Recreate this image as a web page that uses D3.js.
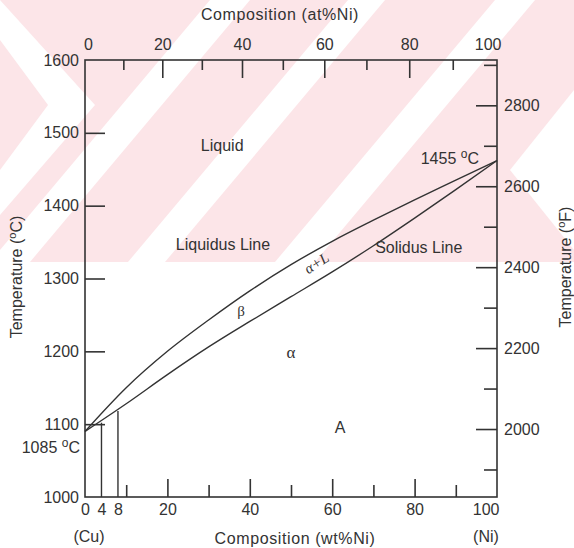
<!DOCTYPE html>
<html lang="en">
<head>
<meta charset="UTF-8">
<title>Cu-Ni phase diagram</title>
<script src="https://cdn.jsdelivr.net/npm/d3@7"></script>
<style>
  body { margin: 0; background: #fff; }
  svg text { font-family: "Liberation Sans", Arial, sans-serif; fill: #333; }
  .greek { font-family: "Liberation Serif", "DejaVu Serif", serif; }
</style>
</head>
<body>
<script>
    // composition (wt% Ni) and the two phase boundaries in degC
    var compWt    = [0, 10, 20, 30, 40, 50, 60, 70, 80, 90, 100];
    var liquidusC = [1090, 1150, 1200, 1243, 1283, 1319, 1351, 1380, 1408, 1435, 1462];
    var solidusC  = [1090, 1128, 1168, 1206, 1241, 1275, 1309, 1345, 1383, 1422, 1462];

    // the two alloys marked with vertical lines
    var alloyWt  = [4, 8];
    var alloyTop = [1102, 1118];

    var wtMajor  = [20, 40, 60, 80];
    var wtMinor  = [10, 30, 50, 70, 90];
    var wtLabels = [0, 4, 8, 20, 40, 60, 80, 100];
    var atMajor  = [20, 40, 60, 80];
    var atMinor  = [10, 30, 50, 70, 90];
    var atLabels = [0, 20, 40, 60, 80, 100];
    var cTicks   = [1100, 1200, 1300, 1400, 1500];
    var cLabels  = [1000, 1100, 1200, 1300, 1400, 1500, 1600];
    var fMajor   = [2000, 2200, 2400, 2600, 2800];
    var fMinor   = [1900, 2100, 2300, 2500, 2700, 2900];

    var width = 574, height = 548;
    var mLeft = 85, mRight = 497, mTop = 60, mBottom = 497;
    var ink = "#333";
    var fs = 16;

    var svg = d3.select("body").append("svg")
            .attr("width", width)
            .attr("height", height);

    // faint watermark behind the chart
    var wm = svg.append("g");
    wm.append("rect").attr("x", 0).attr("y", 0).attr("width", width).attr("height", 262)
            .attr("fill", "#fce5e8");
    var stripes = [
        [[0, 40], [48, 105], [0, 170], [0, 215], [95, 105], [0, 0]],
        [[-10, 262], [30, 262], [250, 0], [210, 0]],
        [[128, 262], [165, 262], [385, 0], [348, 0]],
        [[275, 262], [315, 262], [535, 0], [495, 0]],
        [[574, 90], [510, 170], [574, 250]]
    ];
    wm.selectAll("polygon").data(stripes).enter().append("polygon")
            .attr("points", function (d) { return d.map(function (p) { return p.join(","); }).join(" "); })
            .attr("fill", "#fff");

    var x = d3.scaleLinear().domain([0, 100]).range([mLeft, mRight]);
    var y = d3.scaleLinear().domain([1000, 1600]).range([mBottom, mTop]);
    var toF = function (c) { return c * 9 / 5 + 32; };
    var yF = d3.scaleLinear().domain([toF(1000), toF(1600)]).range([mBottom, mTop]);

    // at% -> wt% Ni (Cu 63.55, Ni 58.69)
    var atToWt = function (a) { return 100 * a * 58.69 / (a * 58.69 + (100 - a) * 63.55); };
    var atAll = d3.range(0, 101, 10);
    var xAt = d3.scaleLinear().domain(atAll).range(atAll.map(function (a) { return x(atToWt(a)); }));

    // frame
    svg.append("rect")
            .attr("x", mLeft).attr("y", mTop)
            .attr("width", mRight - mLeft).attr("height", mBottom - mTop)
            .attr("fill", "none").attr("stroke", ink).attr("stroke-width", 1.6);

    function styleAxis(g) {
        g.select(".domain").remove();
        g.selectAll("line").attr("stroke", ink).attr("stroke-width", 1.6);
        g.selectAll("text").attr("font-size", fs).attr("fill", ink)
                .attr("font-family", "'Liberation Sans', Arial, sans-serif");
    }
    var fmt = d3.format("d");

    // left axis (degC)
    svg.append("g").attr("transform", "translate(" + mLeft + ",0)")
            .call(d3.axisLeft(y).tickValues(cTicks).tickSize(-20).tickFormat(""))
            .call(styleAxis);
    svg.append("g").attr("transform", "translate(" + mLeft + ",0)")
            .call(d3.axisLeft(y).tickValues(cLabels).tickSize(0).tickPadding(6).tickFormat(fmt))
            .call(styleAxis);

    // right axis (degF)
    svg.append("g").attr("transform", "translate(" + mRight + ",0)")
            .call(d3.axisRight(yF).tickValues(fMajor).tickSize(-21).tickPadding(7).tickFormat(fmt))
            .call(styleAxis);
    svg.append("g").attr("transform", "translate(" + mRight + ",0)")
            .call(d3.axisRight(yF).tickValues(fMinor).tickSize(-13).tickFormat(""))
            .call(styleAxis);

    // bottom axis (wt%)
    svg.append("g").attr("transform", "translate(0," + mBottom + ")")
            .call(d3.axisBottom(x).tickValues(wtMajor).tickSize(-18).tickFormat(""))
            .call(styleAxis);
    svg.append("g").attr("transform", "translate(0," + mBottom + ")")
            .call(d3.axisBottom(x).tickValues(wtMinor).tickSize(-12).tickFormat(""))
            .call(styleAxis);
    var bl = svg.append("g").attr("transform", "translate(0," + mBottom + ")")
            .call(d3.axisBottom(x).tickValues(wtLabels).tickSize(0).tickPadding(7).tickFormat(fmt))
            .call(styleAxis);
    bl.selectAll(".tick").filter(function (d) { return d === 100; })
            .select("text").attr("text-anchor", "end").attr("dx", 2);

    // top axis (at%)
    svg.append("g").attr("transform", "translate(0," + mTop + ")")
            .call(d3.axisTop(xAt).tickValues(atMajor).tickSize(-18).tickFormat(""))
            .call(styleAxis);
    svg.append("g").attr("transform", "translate(0," + mTop + ")")
            .call(d3.axisTop(xAt).tickValues(atMinor).tickSize(-10).tickFormat(""))
            .call(styleAxis);
    var tl = svg.append("g").attr("transform", "translate(0," + mTop + ")")
            .call(d3.axisTop(xAt).tickValues(atLabels).tickSize(0).tickPadding(10).tickFormat(fmt))
            .call(styleAxis);
    tl.selectAll(".tick").filter(function (d) { return d === 0; })
            .select("text").attr("dx", 3);
    tl.selectAll(".tick").filter(function (d) { return d === 100; })
            .select("text").attr("text-anchor", "end").attr("dx", 4);

    // phase boundaries
    var line = d3.line().curve(d3.curveMonotoneX);
    var boundaries = [liquidusC, solidusC];
    svg.selectAll("path.boundary")
            .data(boundaries)
            .enter()
            .append("path")
            .attr("class", "boundary")
            .attr("d", function (temps) {
                return line(compWt.map(function (w, i) { return [x(w), y(temps[i])]; }));
            })
            .attr("fill", "none")
            .attr("stroke", ink)
            .attr("stroke-width", 1.4);

    // alloy lines
    svg.selectAll("line.alloy")
            .data(alloyWt)
            .enter()
            .append("line")
            .attr("class", "alloy")
            .attr("x1", function (d) { return x(d); })
            .attr("x2", function (d) { return x(d); })
            .attr("y1", y(1000))
            .attr("y2", function (d, i) { return y(alloyTop[i]); })
            .attr("stroke", ink)
            .attr("stroke-width", 1.4);

    // labels
    function label(txt, wx, tc, opts) {
        opts = opts || {};
        var t = svg.append("text")
                .attr("x", x(wx)).attr("y", y(tc))
                .attr("text-anchor", opts.anchor || "middle")
                .attr("dominant-baseline", "central")
                .attr("font-size", opts.size || fs)
                .text(txt);
        if (opts.cls) t.attr("class", opts.cls);
        if (opts.rotate) t.attr("transform", "rotate(" + opts.rotate + "," + x(wx) + "," + y(tc) + ")");
        return t;
    }

    label("Liquid", 33.3, 1483);
    label("Liquidus Line", 33.5, 1347);
    label("Solidus Line", 81, 1342);
    label("\u03b1+L", 56.2, 1321, {cls: "greek", rotate: -33, size: 15}).attr("font-style", "italic");
    label("\u03b2", 37.9, 1255, {cls: "greek", size: 15});
    label("\u03b1", 50, 1199, {cls: "greek", size: 17});
    label("A", 61.9, 1095);

    function degLabel(xp, yp, num, unit, anchor) {
        var t = svg.append("text")
                .attr("x", xp).attr("y", yp)
                .attr("text-anchor", anchor)
                .attr("font-size", fs);
        t.append("tspan").text(num + " ");
        t.append("tspan").attr("dy", -6).attr("font-size", 12).text("o");
        t.append("tspan").attr("dy", 6).text(unit);
        return t;
    }
    degLabel(479, 164, "1455", "C", "end");
    degLabel(80, 453, "1085", "C", "end");

    // axis titles
    svg.append("text")
            .attr("x", 280).attr("y", 20)
            .attr("text-anchor", "middle").attr("font-size", fs)
            .attr("letter-spacing", 0.6)
            .text("Composition (at%Ni)");
    svg.append("text")
            .attr("x", 295).attr("y", 544)
            .attr("text-anchor", "middle").attr("font-size", fs)
            .attr("letter-spacing", 0.6)
            .text("Composition (wt%Ni)");
    svg.append("text").attr("x", 89).attr("y", 542)
            .attr("text-anchor", "middle").attr("font-size", fs).text("(Cu)");
    svg.append("text").attr("x", 486).attr("y", 542)
            .attr("text-anchor", "middle").attr("font-size", fs).text("(Ni)");

    function vTitle(xp, yp, unit) {
        var t = svg.append("text")
                .attr("transform", "translate(" + xp + "," + yp + ") rotate(-90)")
                .attr("text-anchor", "middle").attr("font-size", fs);
        t.append("tspan").text("Temperature (");
        t.append("tspan").attr("dy", -6).attr("font-size", 11).text("o");
        t.append("tspan").attr("dy", 6).text(unit + ")");
    }
    vTitle(22, 277, "C");
    vTitle(571, 267, "F");
</script>
</body>
</html>
